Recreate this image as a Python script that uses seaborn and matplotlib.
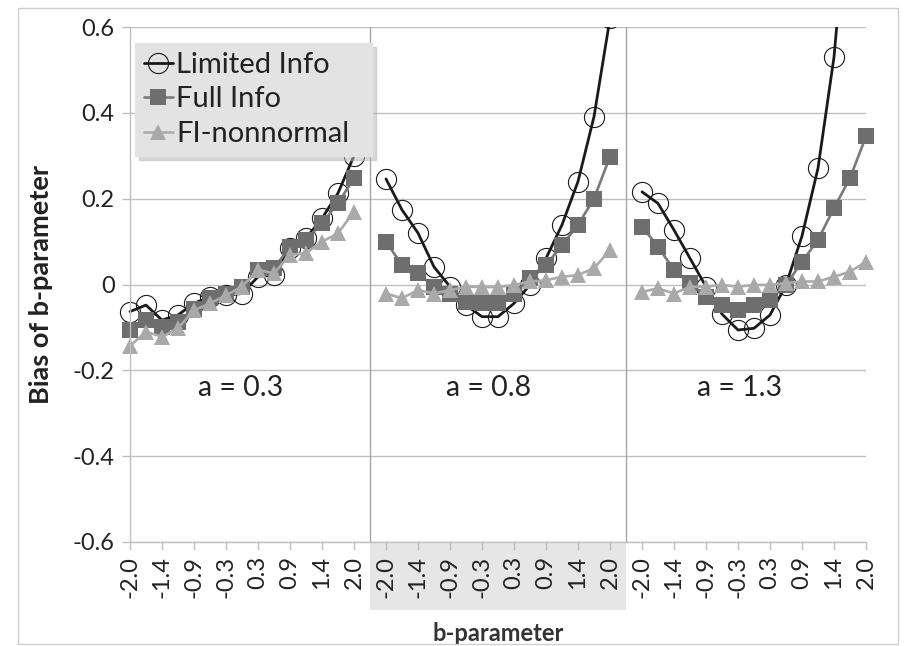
import numpy as np
import pandas as pd
import seaborn as sns
import matplotlib
matplotlib.use('Agg')
import matplotlib.pyplot as plt
from matplotlib.lines import Line2D
from matplotlib.patches import Rectangle
from matplotlib.transforms import Bbox, TransformedBbox

sns.set_theme(style='white')
plt.rcParams['font.family'] = ['Lato', 'DejaVu Sans']

# three panels (a = 0.3, 0.8, 1.3), 15 b values each
a_values = ['a = 0.3', 'a = 0.8', 'a = 1.3']
b_labels = ['-2.0', '-1.4', '-0.9', '-0.3', '0.3', '0.9', '1.4', '2.0']
y_labels = ['-0.6', '-0.4', '-0.2', '0', '0.2', '0.4', '0.6']

limited = [
    -0.063, -0.048, -0.083, -0.071, -0.044, -0.028, -0.025, -0.021, 0.018, 0.022, 0.084, 0.108, 0.154, 0.213, 0.300,
    0.246, 0.174, 0.120, 0.041, -0.005, -0.048, -0.075, -0.075, -0.044, -0.001, 0.061, 0.139, 0.240, 0.391, 0.620,
    0.216, 0.189, 0.127, 0.061, -0.005, -0.069, -0.106, -0.102, -0.071, -0.001, 0.113, 0.271, 0.530, 0.950, 1.400,
]
full = [
    -0.106, -0.083, -0.098, -0.087, -0.056, -0.032, -0.021, -0.005, 0.034, 0.038, 0.088, 0.104, 0.143, 0.189, 0.248,
    0.100, 0.045, 0.026, -0.005, -0.021, -0.040, -0.044, -0.044, -0.021, 0.014, 0.045, 0.092, 0.139, 0.200, 0.298,
    0.135, 0.088, 0.034, 0.003, -0.028, -0.048, -0.059, -0.048, -0.036, -0.001, 0.053, 0.104, 0.178, 0.248, 0.345,
]
fi_nonnormal = [
    -0.143, -0.110, -0.122, -0.102, -0.060, -0.044, -0.025, -0.005, 0.034, 0.026, 0.069, 0.073, 0.100, 0.119, 0.170,
    -0.021, -0.032, -0.013, -0.021, -0.013, -0.005, -0.006, -0.006, -0.001, 0.007, 0.010, 0.018, 0.022, 0.038, 0.080,
    -0.017, -0.009, -0.021, -0.005, -0.005, -0.001, -0.005, -0.001, -0.001, 0.003, 0.007, 0.007, 0.018, 0.030, 0.053,
]

series = {'Limited Info': limited, 'Full Info': full, 'FI-nonnormal': fi_nonnormal}

rows = []
for name, vals in series.items():
    for p, a in enumerate(a_values):
        for i in range(15):
            rows.append({'series': name, 'panel': a, 'pos': p * 16 + i, 'bias': vals[p * 15 + i]})
df = pd.DataFrame(rows)

styles = {
    'Limited Info': dict(color='#1a1a1a', marker='o', markersize=14.5, markerfacecolor='none',
                         markeredgecolor='#1a1a1a', markeredgewidth=0.8, linewidth=2.0),
    'Full Info': dict(color='#7a7a7a', marker='s', markersize=11, markerfacecolor='#6e6e6e',
                      markeredgecolor='#6e6e6e', markeredgewidth=0, linewidth=1.9),
    'FI-nonnormal': dict(color='#ababab', marker='^', markersize=12, markerfacecolor='#a9a9a9',
                         markeredgecolor='#a9a9a9', markeredgewidth=0, linewidth=1.9),
}

fig = plt.figure(figsize=(9.09, 6.46), dpi=100)
ax = fig.add_axes([130 / 909, 1 - 542 / 646, 736 / 909, 515 / 646])

# clip only in y so the edge markers are not cut at the axes sides
clip_box = TransformedBbox(Bbox([[-0.03, 0], [1.03, 1]]), ax.transAxes)

for name in series:
    for a in a_values:
        sub = df[(df['series'] == name) & (df['panel'] == a)]
        n_before = len(ax.lines)
        sns.lineplot(data=sub, x='pos', y='bias', ax=ax, estimator=None, errorbar=None,
                     **styles[name])
        for ln in ax.lines[n_before:]:
            ln.set_clip_box(clip_box)

ax.set_xlim(0, 46)
ax.set_ylim(-0.6, 0.6)
ax.set_yticks(np.linspace(-0.6, 0.6, 7))
ax.set_yticklabels(y_labels)
xt = [p * 16 + i for p in range(3) for i in range(0, 15, 2)]
ax.set_xticks(xt)
ax.set_xticklabels(b_labels * 3, rotation=90)

ax.grid(axis='y', color='#bfbfbf', linewidth=1)
ax.set_axisbelow(True)
for s in ['top', 'right']:
    ax.spines[s].set_visible(False)
for s in ['left', 'bottom']:
    ax.spines[s].set_color('#bfbfbf')
    ax.spines[s].set_linewidth(1)
ax.tick_params(axis='both', which='major', direction='out', length=6, width=1,
               color='#bfbfbf', labelsize=17, labelcolor='#222222')
ax.tick_params(axis='x', pad=4)
ax.tick_params(axis='y', pad=5, left=True)
ax.tick_params(axis='x', bottom=True)

# panel separators
for xs in [15, 31]:
    ax.axvline(xs, color='#a6a6a6', linewidth=1, zorder=1)

# shaded band behind the middle panel's tick labels
ax.add_patch(Rectangle((15, -0.132), 16, 0.132, transform=ax.get_xaxis_transform(),
                       facecolor='#e6e6e6', edgecolor='none', clip_on=False, zorder=0))

for xc, a in zip([6.9, 22.4, 38.1], a_values):
    ax.text(xc, -0.24, a, ha='center', va='center', fontsize=20.5, color='#222222')

ax.set_xlabel('b-parameter', fontsize=17, fontweight='bold', color='#333333')
ax.set_ylabel('Bias of b-parameter', fontsize=19.5, fontweight='bold', color='#222222')
ax.xaxis.set_label_coords(0.5, -0.155)
ax.yaxis.set_label_coords(-0.104, 0.5)

handles = [Line2D([0], [0], **styles[n]) for n in series]
leg = ax.legend(handles, list(series), loc='upper left',
                bbox_to_anchor=(0.007, 0.7456, 0.322, 0.2234), mode='expand',
                borderaxespad=0, frameon=True, fancybox=False,
                shadow={'ox': 3, 'oy': -3, 'color': '#b5b5b5'},
                facecolor='#e3e3e3', edgecolor='#e3e3e3', framealpha=1,
                fontsize=21, handlelength=1.0, handletextpad=0.1, borderpad=0.3,
                labelspacing=0.3)
for t in leg.get_texts():
    t.set_color('#222222')

# outer chart border
fig.add_artist(Rectangle((18 / 909, 1 - 644 / 646), 880 / 909, 636 / 646,
                         transform=fig.transFigure, fill=False, edgecolor='#cfcfcf', linewidth=1))

fig.savefig('out.png', dpi=100)
